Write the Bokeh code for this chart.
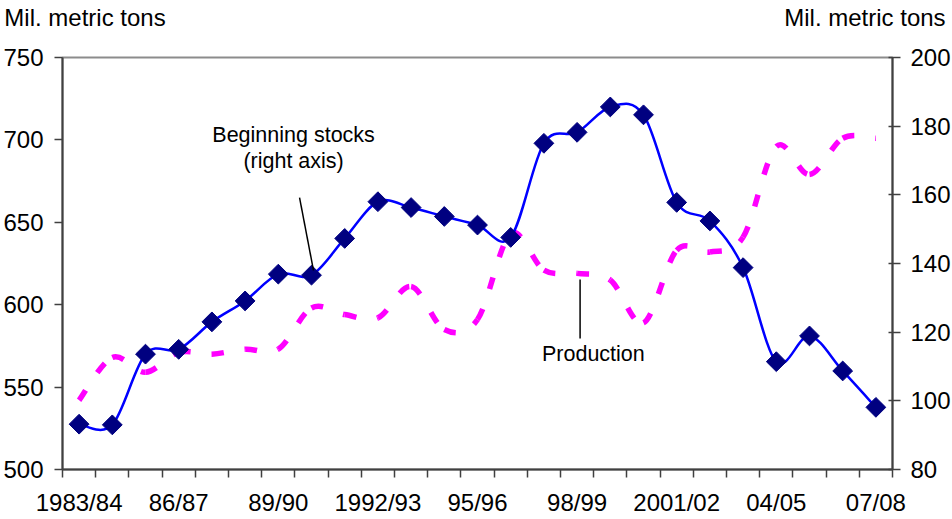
from bokeh.plotting import figure
from bokeh.models import Range1d, LinearAxis, FixedTicker, Label
from bokeh.embed import file_html
from bokeh.resources import INLINE
import numpy as np

# ---- data -------------------------------------------------------------
years = ["1983/84", "84/85", "85/86", "86/87", "87/88", "88/89", "89/90",
         "90/91", "91/92", "1992/93", "93/94", "94/95", "95/96", "96/97",
         "97/98", "98/99", "99/00", "2000/01", "2001/02", "02/03", "03/04",
         "04/05", "05/06", "06/07", "07/08"]
shown_labels = ["1983/84", "86/87", "89/90", "1992/93", "95/96", "98/99",
                "2001/02", "04/05", "07/08"]
# Production, mil. metric tons (left axis)
production = [542, 568, 559, 571, 570, 573, 573, 598, 594, 592, 611, 585, 591,
              643, 621, 619, 615, 589, 633, 632, 641, 696, 679, 701, 701]
# Beginning stocks, mil. metric tons (right axis)
stocks = [93.2, 93.0, 113.6, 115.0, 123.0, 129.1, 136.9, 136.6, 147.3, 158.0,
          156.3, 153.7, 151.2, 147.6, 175.0, 178.2, 185.6, 183.3, 157.8, 152.4,
          138.8, 111.4, 118.9, 108.7, 98.1]
left_ticks = [500, 550, 600, 650, 700, 750]
right_ticks = [80, 100, 120, 140, 160, 180, 200]
unit_title = "Mil. metric tons"

FONT = "Liberation Sans"
AXIS_FS = "24px"
ANN_FS = "21.5px"

xs = [i + 0.5 for i in range(len(years))]


def smooth_segments(x, y):
    """Cubic Bezier control points (Catmull-Rom style smoothing, like Excel)."""
    n = len(x)
    x0, y0, x1, y1, cx0, cy0, cx1, cy1 = [], [], [], [], [], [], [], []
    for i in range(n - 1):
        a = i - 1 if i > 0 else i
        d = i + 2 if i + 2 < n else i + 1
        x0.append(x[i]); y0.append(y[i])
        x1.append(x[i + 1]); y1.append(y[i + 1])
        cx0.append(x[i] + (x[i + 1] - x[a]) / 6.0)
        cy0.append(y[i] + (y[i + 1] - y[a]) / 6.0)
        cx1.append(x[i + 1] - (x[d] - x[i]) / 6.0)
        cy1.append(y[i + 1] - (y[d] - y[i]) / 6.0)
    return dict(x0=x0, y0=y0, x1=x1, y1=y1, cx0=cx0, cy0=cy0, cx1=cx1, cy1=cy1)


p = figure(frame_width=830, frame_height=412,
           x_range=Range1d(0, len(years)), y_range=Range1d(500, 750),
           output_backend="svg", toolbar_location=None,
           min_border_left=61, min_border_right=61,
           min_border_top=55, min_border_bottom=49)
p.grid.visible = False
p.outline_line_color = "#8c8c8c"
p.outline_line_width = 2
p.background_fill_color = "white"
p.border_fill_color = "white"

p.extra_y_ranges = {"stocks": Range1d(80, 200)}

# x axis: tick marks at category boundaries, labels at centres
label_pos = {xs[years.index(l)]: l for l in shown_labels}
p.xaxis.ticker = FixedTicker(ticks=list(label_pos.keys()),
                             minor_ticks=list(range(len(years) + 1)))
p.xaxis.major_label_overrides = label_pos
p.xaxis.major_tick_out = 0
p.xaxis.major_tick_in = 0
p.xaxis.minor_tick_out = 8
p.xaxis.minor_tick_in = 0
p.xaxis.minor_tick_line_color = "#404040"
p.xaxis.minor_tick_line_width = 1.5
p.xaxis.major_label_standoff = 11

# left axis
p.yaxis.ticker = FixedTicker(ticks=left_ticks)
p.yaxis.minor_tick_line_color = None

right_axis = LinearAxis(y_range_name="stocks", ticker=FixedTicker(ticks=right_ticks))
right_axis.minor_tick_line_color = None
p.add_layout(right_axis, "right")

for ax in [p.xaxis[0], p.yaxis[0], right_axis]:
    ax.axis_line_color = "#404040"
    ax.axis_line_width = 2
    ax.major_tick_line_color = "#404040"
    ax.major_tick_line_width = 1.5
    ax.major_label_text_font = FONT
    ax.major_label_text_font_size = AXIS_FS
    ax.major_label_text_color = "black"
p.yaxis.major_tick_out = 8
p.yaxis.major_tick_in = 0
p.yaxis.major_label_standoff = 11
right_axis.major_tick_out = 8
right_axis.major_tick_in = 4
right_axis.major_label_standoff = 10

# unit captions above both value axes (drawn as labels of a bare top axis)
top_axis = LinearAxis(ticker=FixedTicker(ticks=[0.678, 24.17]),
                      major_label_overrides={0.678: unit_title, 24.17: unit_title})
top_axis.axis_line_color = None
top_axis.major_tick_line_color = None
top_axis.minor_tick_line_color = None
top_axis.major_tick_out = 0
top_axis.major_tick_in = 0
top_axis.major_label_standoff = 27
top_axis.major_label_text_font = FONT
top_axis.major_label_text_font_size = AXIS_FS
top_axis.major_label_text_color = "black"
p.add_layout(top_axis, "above")

# production: smoothed dashed magenta line
p.bezier(line_color="#FF00FF", line_width=5.5, line_dash="12 21",
         **smooth_segments(xs, production))
# beginning stocks: smoothed blue line with navy diamonds (right axis)
p.bezier(line_color="#0000FF", line_width=2.5, y_range_name="stocks",
         **smooth_segments(xs, stocks))
p.scatter(xs, stocks, marker="square", angle=np.pi / 4, size=14,
          fill_color="#000080", line_color="#000080", y_range_name="stocks")

# annotations (leader lines + text)
p.segment(x0=[7.14, 15.59], y0=[665.0, 615.3], x1=[7.56, 15.59], y1=[620.8, 579.5],
          line_color="black", line_width=1.5)
for txt, x, y in [("Beginning stocks", 6.96, 702.7), ("(right axis)", 6.96, 687.5),
                  ("Production", 15.99, 569.8)]:
    p.add_layout(Label(x=x, y=y, text=txt, text_align="center", text_baseline="middle",
                       text_font=FONT, text_font_size=ANN_FS, text_color="black"))

open("out.html", "w").write(file_html(p, INLINE))
